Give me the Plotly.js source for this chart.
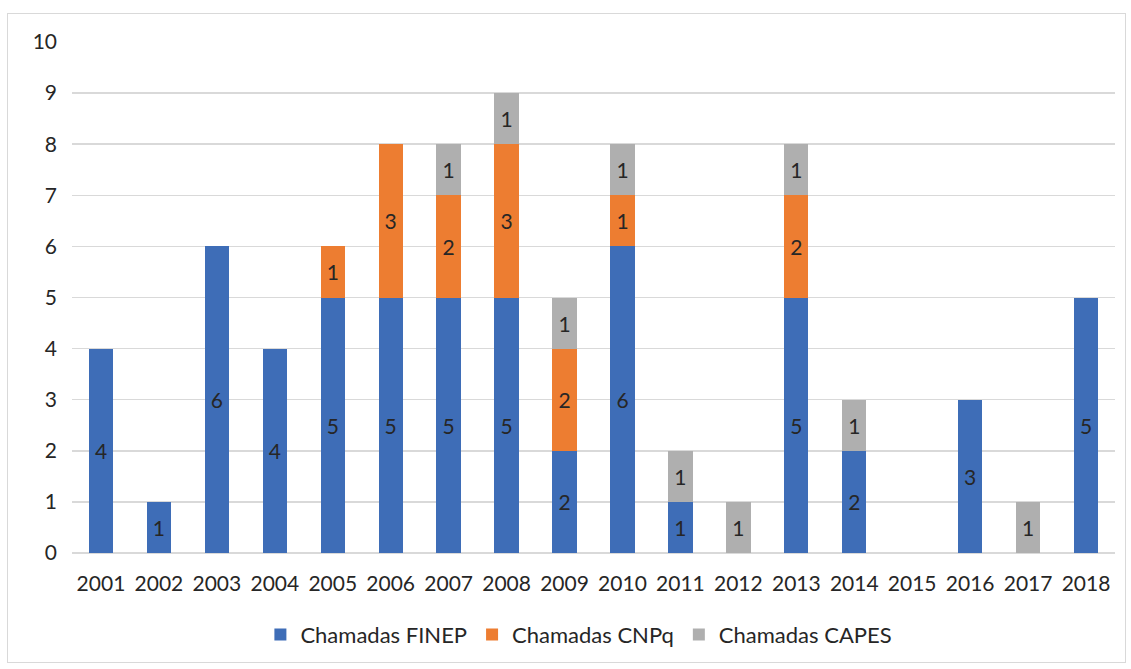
<!DOCTYPE html>
<html>
<head>
<meta charset="utf-8">
<script src="https://cdn.plot.ly/plotly-3.0.1.min.js"></script>
<style>
html,body{margin:0;padding:0;background:#fff;}
#chart{width:1131px;height:669px;}
#frame{position:absolute;left:7px;top:13px;width:1117px;height:648px;border:1px solid #d9d9d9;pointer-events:none;}
</style>
</head>
<body>
<div id="chart"></div>
<div id="frame"></div>
<script>
const years = ['2001','2002','2003','2004','2005','2006','2007','2008','2009','2010','2011','2012','2013','2014','2015','2016','2017','2018'];
const finep = [4,1,6,4,5,5,5,5,2,6,1,0,5,2,0,3,0,5];
const cnpq  = [0,0,0,0,1,3,2,3,2,1,0,0,2,0,0,0,0,0];
const capes = [0,0,0,0,0,0,1,1,1,1,1,1,1,1,0,0,1,0];
const yTicks = [0,1,2,3,4,5,6,7,8,9,10];

const font = 'Lato, "Open Sans", sans-serif';
const fs = 21;
function mk(name, vals, color){
  return {
    type:'bar', name:name, x:years, y:vals.map(v=>v===0?null:v),
    text:vals.map(v=>v===0?'':String(v)),
    textposition:'inside', insidetextanchor:'middle', textangle:0,
    constraintext:'none',
    textfont:{family:font,size:fs,color:'#262626'},
    marker:{color:color,line:{width:0}},
    hoverinfo:'x+y+name'
  };
}
const data = [
  mk('Chamadas FINEP', finep, '#3E6DB7'),
  mk('Chamadas CNPq', cnpq, '#ED7D31'),
  mk('Chamadas CAPES', capes, '#AFAFAF')
];
const layout = {
  width:1131, height:669,
  margin:{l:72,r:16,t:42,b:116},
  barmode:'stack', bargap:0.58,
  paper_bgcolor:'#fff', plot_bgcolor:'#fff',
  font:{family:font,size:fs,color:'#262626'},
  xaxis:{type:'category', tickfont:{family:font,size:fs,color:'#262626'}, showgrid:false, zeroline:false, showline:false, ticks:'', ticklen:0, ticklabelstandoff:16},
  yaxis:{range:[0,10], tickvals:yTicks, ticktext:yTicks.map(String), showgrid:true, gridcolor:'#d9d9d9', gridwidth:1.5, zeroline:true, zerolinecolor:'#d9d9d9', zerolinewidth:1.5, ticks:'', ticklabelstandoff:14, tickfont:{family:font,size:fs,color:'#262626'}},
  legend:{orientation:'h', x:0.486, xanchor:'center', y:-0.16, yanchor:'middle', font:{family:font,size:22,color:'#262626'}, traceorder:'normal', itemwidth:30},
  showlegend:true
};
Plotly.newPlot('chart', data, layout, {displayModeBar:false, staticPlot:true});
</script>
</body>
</html>
